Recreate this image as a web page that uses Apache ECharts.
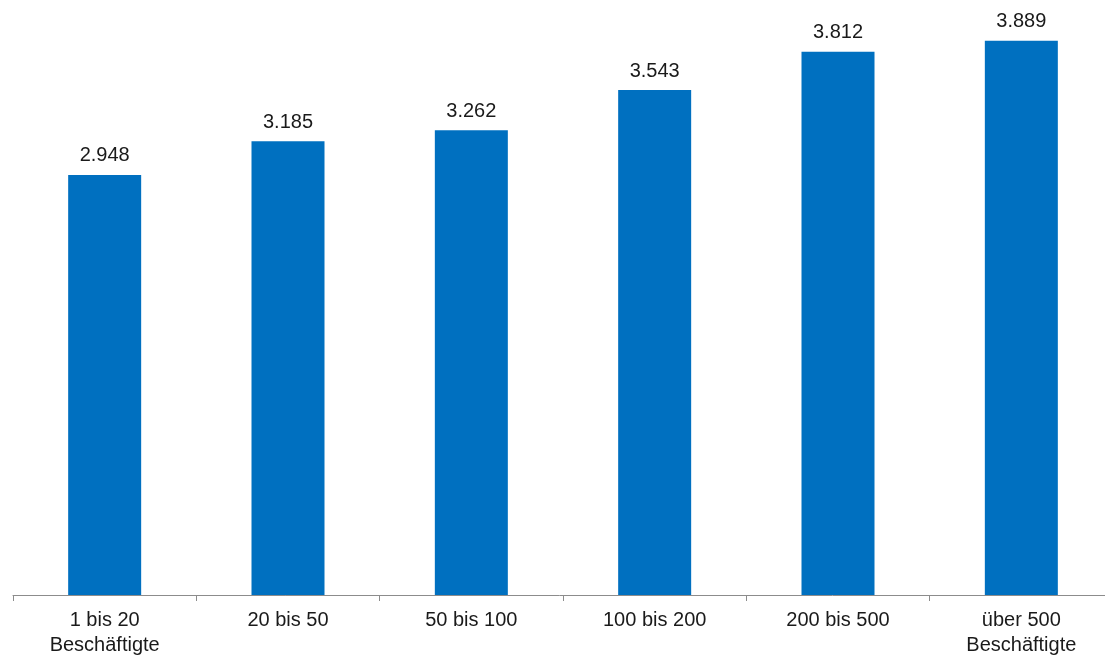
<!DOCTYPE html>
<html>
<head>
<meta charset="utf-8">
<script src="https://cdn.jsdelivr.net/npm/echarts@6/dist/echarts.min.js"></script>
<style>
html,body{margin:0;padding:0;background:#fff;overflow:hidden;}
#chart{width:1105px;height:657px;}
</style>
</head>
<body>
<div id="chart"></div>
<script>
const categories = ['1 bis 20\nBeschäftigte', '20 bis 50', '50 bis 100', '100 bis 200', '200 bis 500', 'über 500\nBeschäftigte'];
const values = [2948, 3185, 3262, 3543, 3812, 3889];

function fmt(v) {
  return String(v).replace(/\B(?=(\d{3})+(?!\d))/g, '.');
}

const chart = echarts.init(document.getElementById('chart'));
chart.setOption({
  animation: false,
  grid: { left: 13, top: 25, right: -8, bottom: 62, containLabel: false, outerBoundsMode: 'none' },
  xAxis: {
    type: 'category',
    data: categories,
    axisLine: { lineStyle: { color: '#8c8c8c', width: 1 } },
    axisTick: { show: true, length: 6, lineStyle: { color: '#8c8c8c' } },
    axisLabel: {
      color: '#1a1a1a', fontSize: 20, fontFamily: 'Liberation Sans, Arial, sans-serif',
      lineHeight: 25, margin: 13, interval: 0
    }
  },
  yAxis: {
    type: 'value', min: 0, max: 4000, show: false,
    splitLine: { show: false }
  },
  series: [{
    type: 'bar',
    data: values,
    barWidth: 73,
    itemStyle: { color: '#0070C0' },
    label: {
      show: true, position: 'top', distance: 9,
      color: '#1a1a1a', fontSize: 20, fontFamily: 'Liberation Sans, Arial, sans-serif',
      formatter: p => fmt(p.value)
    }
  }]
});
</script>
</body>
</html>
